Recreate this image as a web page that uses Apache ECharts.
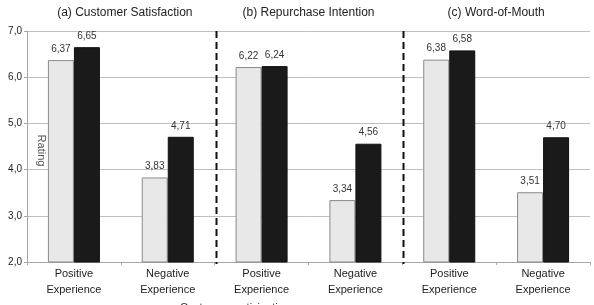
<!DOCTYPE html>
<html>
<head>
<meta charset="utf-8">
<script src="https://cdn.jsdelivr.net/npm/echarts@6/dist/echarts.min.js"></script>
<style>
html,body{margin:0;padding:0;background:#fff;}
#c{width:594px;height:305px;}
</style>
</head>
<body>
<div id="c"></div>
<script>
var categories = ["Positive\nExperience", "Negative\nExperience", "Positive\nExperience", "Negative\nExperience", "Positive\nExperience", "Negative\nExperience"];
var lowValues = [6.37, 3.83, 6.22, 3.34, 6.38, 3.51];
var highValues = [6.65, 4.71, 6.24, 4.56, 6.58, 4.70];
var panelTitles = ["(a) Customer Satisfaction", "(b) Repurchase Intention", "(c) Word-of-Mouth"];
var yTicks = [2, 3, 4, 5, 6, 7];
var yTitle = "Rating";
var xTitle = "Customer participation";

var fmt = function (v) { return Number(v).toFixed(2).replace('.', ','); };
var chart = echarts.init(document.getElementById('c'));
var font = 'Liberation Sans, Arial, sans-serif';
chart.setOption({
  animation: false,
  textStyle: { fontFamily: font },
  grid: { left: 27, right: 4, top: 31, bottom: 43, containLabel: false, outerBoundsMode: 'none' },
  xAxis: {
    type: 'category',
    data: categories,
    axisLine: { lineStyle: { color: '#a6a6a6' } },
    axisTick: { show: true, length: 3, lineStyle: { color: '#a6a6a6' } },
    axisLabel: { color: '#222', fontSize: 11, lineHeight: 16, margin: 4, fontFamily: font }
  },
  yAxis: {
    type: 'value',
    min: yTicks[0], max: yTicks[yTicks.length - 1], interval: 1,
    axisLine: { show: true, lineStyle: { color: '#a6a6a6' } },
    axisTick: { show: true, length: 3, lineStyle: { color: '#a6a6a6' } },
    splitLine: { lineStyle: { color: '#bfbfbf' } },
    axisLabel: { color: '#222', fontSize: 10, margin: 5, fontFamily: font,
      formatter: function (v) { return Number(v).toFixed(1).replace('.', ','); } }
  },
  series: [
    {
      type: 'bar', data: lowValues, barWidth: 26, barGap: '0%',
      itemStyle: { color: '#e8e8e8', borderColor: '#8a8a8a', borderWidth: 1 },
      label: { show: true, position: 'top', distance: 6, color: '#333', fontSize: 10,
        formatter: function (p) { return fmt(p.value); } }
    },
    {
      type: 'bar', data: highValues, barWidth: 26,
      itemStyle: { color: '#1a1a1a', borderColor: '#111', borderWidth: 1 },
      label: { show: true, position: 'top', distance: 6, color: '#333', fontSize: 10,
        formatter: function (p) { return fmt(p.value); } }
    }
  ]
});

function drawExtras() {
  var c = categories.map(function (_, i) { return chart.convertToPixel({ xAxisIndex: 0 }, i); });
  var yTop = chart.convertToPixel({ yAxisIndex: 0 }, yTicks[yTicks.length - 1]);
  var yBot = chart.convertToPixel({ yAxisIndex: 0 }, yTicks[0]);
  var yMid = chart.convertToPixel({ yAxisIndex: 0 }, 4.5);
  var g = [];
  [1, 3].forEach(function (i) {
    var x = Math.round((c[i] + c[i + 1]) / 2) + 1.5;
    g.push({ type: 'line', shape: { x1: x, y1: yTop, x2: x, y2: yBot + 2 },
      style: { stroke: '#111', lineWidth: 2, lineDash: [7, 4] }, z: 10 });
  });
  panelTitles.forEach(function (t, k) {
    var cx = (c[2 * k] + c[2 * k + 1]) / 2 + (k === 0 ? 4 : 0);
    g.push({ type: 'text', x: cx, y: 13,
      style: { text: t, fill: '#222', font: '12px ' + font, textAlign: 'center', textVerticalAlign: 'middle' } });
  });
  g.push({ type: 'text', x: 41, y: yMid + 4, rotation: -Math.PI / 2,
    style: { text: yTitle, fill: '#555', font: '11px ' + font, textAlign: 'center', textVerticalAlign: 'middle' }, z: 0 });
  g.push({ type: 'text', x: 235, y: 302,
    style: { text: xTitle, fill: '#333', font: '11px ' + font, textAlign: 'center', textVerticalAlign: 'top' } });
  chart.setOption({ graphic: g });
}
drawExtras();
</script>
</body>
</html>
